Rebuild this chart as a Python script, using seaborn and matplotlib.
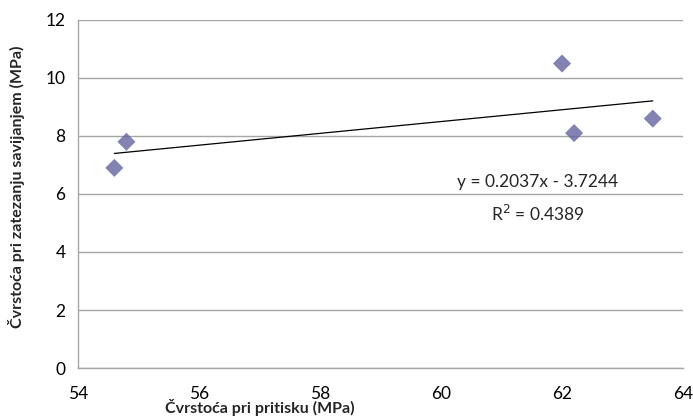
import numpy as np
import pandas as pd
import matplotlib
matplotlib.use("Agg")
import matplotlib.pyplot as plt
import seaborn as sns

sns.set_theme(style="white")
plt.rcParams["font.family"] = ["Lato", "DejaVu Sans"]

# data
pritisak = [54.6, 54.8, 62.0, 62.2, 63.5]
savijanje = [6.9, 7.8, 10.5, 8.1, 8.6]
x_ticks = [54, 56, 58, 60, 62, 64]
y_ticks = [0, 2, 4, 6, 8, 10, 12]

df = pd.DataFrame({"x": pritisak, "y": savijanje})
slope, intercept = np.polyfit(df["x"], df["y"], 1)
r2 = np.corrcoef(df["x"], df["y"])[0, 1] ** 2

MARKER = "#6464A0"
GRID = "#A6A6A6"

fig = plt.figure(figsize=(6.93, 4.2), dpi=100)
ax = fig.add_axes([0.1126, 0.1238, 0.873, 0.8286])

sns.regplot(data=df, x="x", y="y", ci=None, truncate=True, ax=ax,
            marker="D",
            scatter_kws={"s": 85, "color": MARKER, "edgecolor": "none", "zorder": 3},
            line_kws={"color": "black", "linewidth": 0.9, "zorder": 2})

ax.set_xlim(54, 64)
ax.set_ylim(0, 12)
ax.set_xticks(x_ticks)
ax.set_yticks(y_ticks)
ax.yaxis.grid(True, color=GRID, linewidth=1.0)
ax.xaxis.grid(False)
ax.set_axisbelow(True)

for side in ["top", "right"]:
    ax.spines[side].set_visible(False)
for side in ["left", "bottom"]:
    ax.spines[side].set_color(GRID)
    ax.spines[side].set_linewidth(1.0)

ax.tick_params(axis="both", which="major", direction="out", length=5,
               width=1.0, color=GRID, labelsize=12.5, labelcolor="black")
ax.tick_params(axis="x", pad=8)
ax.tick_params(axis="y", pad=4)

ax.set_xlabel("Čvrstoća pri pritisku (MPa)", fontsize=11.5, fontweight="bold")
ax.set_ylabel("Čvrstoća pri zatezanju savijanjem (MPa)", fontsize=11.5, fontweight="bold")
ax.xaxis.set_label_coords(0.30, -0.09)
ax.yaxis.set_label_coords(-0.088, 0.52)

ax.text(61.6, 6.4, f"y = {slope:.4f}x - {abs(intercept):.4f}",
        fontsize=12.5, ha="center", va="center")
ax.text(61.6, 5.3, f"R$^2$ = {r2:.4f}",
        fontsize=12.5, ha="center", va="center")

fig.savefig("out.png", dpi=100)
